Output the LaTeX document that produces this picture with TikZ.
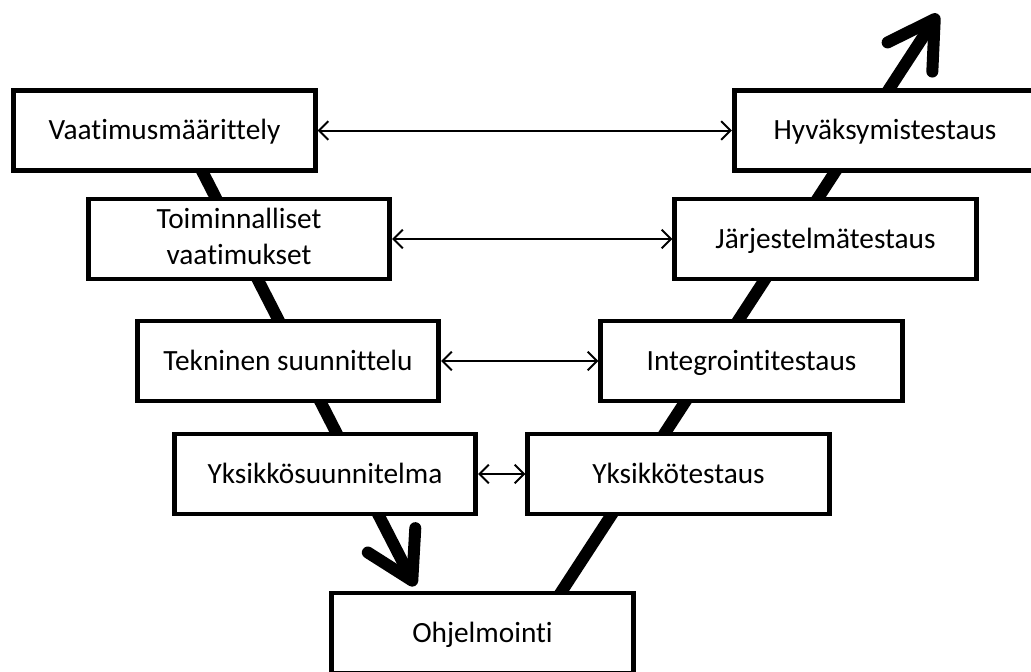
\documentclass[tikz,border=0pt]{standalone}
\usepackage{fontspec}
\setmainfont{Carlito}[Ligatures=NoCommon]
\usepackage{tikz}
\usetikzlibrary{arrows.meta}
\newcommand\BoxW{226pt}
\newcommand\BoxH{60pt}
\newcommand\PhaseFont{\fontsize{22}{27.5}\selectfont}
\tikzstyle{phase}=[rectangle,draw=black,fill=white,line width=3.6pt,text centered,align=center,
                     minimum height=\BoxH,minimum width=\BoxW,font=\PhaseFont,
                     execute at begin node=\vphantom{Äg}]
\tikzstyle{vline}=[line width=9pt,-{Straight Barb[round,length=34pt,width=40pt]}]
\tikzstyle{link}=[line width=1.5pt,{Straight Barb[length=7pt,width=14pt]}-{Straight Barb[length=7pt,width=14pt]}]

\begin{document}
\begin{tikzpicture}[x=0.75pt,y=-0.75pt]
      \useasboundingbox (0,0) rectangle (1031,671);
      \clip (0,0) rectangle (1031,671);
      % the V behind the boxes
      \coordinate (vtop) at (181,130);
      \coordinate (vtip) at (415,586);
      \coordinate (wfoot) at (556,600);
      \coordinate (wtip) at (938,14);
      \draw[vline] (vtop) -- (vtip);
      \draw[vline] (wfoot) -- (wtip);
      % specification side
      \node[phase] (vaat) at (164.5,130.5) {Vaatimusmäärittely};
      \node[phase,execute at begin node={\rule{0pt}{22pt}}] (toim) at (239,239) {Toiminnalliset\\vaatimukset};
      \node[phase] (tekn) at (288,361) {Tekninen suunnittelu};
      \node[phase] (yksu) at (325,474) {Yksikkösuunnitelma};
      % testing side
      \node[phase] (hyv) at (885,130.5) {Hyväksymistestaus};
      \node[phase] (jarj) at (825.5,239) {Järjestelmätestaus};
      \node[phase] (integ) at (751.5,361) {Integrointitestaus};
      \node[phase] (ykst) at (678.5,474) {Yksikkötestaus};
      \node[phase] (ohj) at (482.5,633) {Ohjelmointi};
      % links
      \draw[link] (vaat) -- (hyv);
      \draw[link] (toim) -- (jarj);
      \draw[link] (tekn) -- (integ);
      \draw[link] (yksu) -- (ykst);
\end{tikzpicture}
\end{document}
